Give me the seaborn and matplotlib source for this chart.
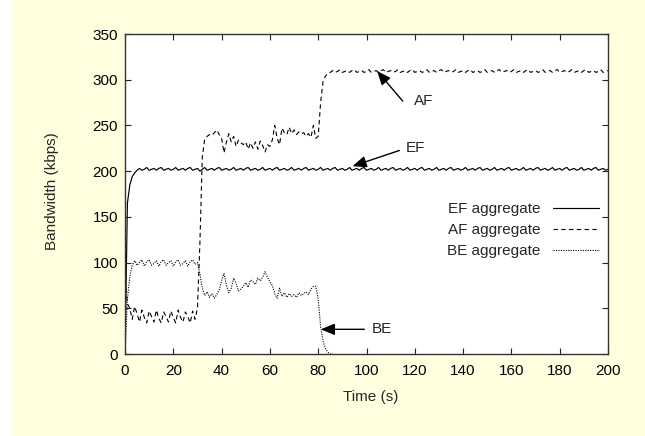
import numpy as np
import matplotlib
matplotlib.use("Agg")
import matplotlib.pyplot as plt
from matplotlib.patches import Rectangle
import seaborn as sns

sns.set_style("ticks")
plt.rcParams["font.family"] = ["Liberation Sans", "DejaVu Sans"]
plt.rcParams["font.size"] = 11

# ---------------- data (kbps, sampled every 1 s) ----------------
ef_start = [0, 165, 185, 194, 198, 201]
ef_steady = [
    203, 201, 202, 204, 201, 202, 203, 201, 203, 204, 201, 202, 203, 201, 202,
    204, 201, 202, 203, 201, 203, 204, 201, 202, 203, 200, 202, 204, 201, 202,
    203, 201, 203, 204, 201, 202, 203, 201, 202, 204, 201, 202, 203, 201, 203,
    204, 201, 202, 203, 201, 202, 204, 201, 202, 203, 201, 203, 204, 201, 202,
    203, 201, 202, 204, 201, 202, 203, 201, 203, 204, 201, 202, 203, 201, 202,
    204, 201, 202, 203, 201, 203, 204, 201, 202, 203, 201, 202, 204, 201, 202,
    203, 201, 203, 204, 201, 202, 203, 201, 202, 204, 201, 202, 203, 201, 203,
    204, 201, 202, 203, 201, 202, 204, 201, 202, 203, 201, 203, 204, 201, 202,
    203, 201, 202, 204, 201, 202, 203, 201, 203, 204, 201, 202, 203, 201, 202,
    204, 201, 202, 203, 201, 203, 204, 201, 202, 203, 201, 202, 204, 201, 202,
    203, 201, 203, 204, 201, 202, 203, 201, 202, 204, 201, 202, 203, 201, 203,
    204, 201, 202, 203, 201, 202, 204, 201, 202, 203, 201, 203, 204, 201, 202,
    203, 201, 202, 204, 201, 202, 203, 201, 203, 204, 201, 202, 203, 201, 202,
]
af_phase1 = [80, 55, 50, 38, 52, 44, 35, 48, 40, 34, 47, 41, 35, 48, 39, 34, 46,
             41, 35, 47, 40, 34, 48, 40, 35, 46, 41, 34, 47, 38, 50, 120, 215]
af_phase2 = [235, 238, 240, 239, 242, 245, 240, 236, 220, 232, 241, 232, 238, 227,
             234, 231, 229, 232, 224, 231, 225, 232, 224, 233, 228, 221, 229, 227,
             234, 250, 236, 229, 247, 242, 240, 248, 241, 245, 240, 243, 241, 242,
             238, 241, 237, 250, 236, 238]
af_phase3 = [
    275, 298, 304, 307, 308,
    310, 308, 309, 311, 308, 309, 310, 308, 310, 311, 308, 309, 310, 308, 309,
    311, 308, 309, 310, 308, 310, 311, 308, 309, 310, 308, 309, 311, 308, 309,
    310, 308, 310, 311, 308, 309, 310, 308, 309, 311, 308, 309, 310, 308, 310,
    311, 308, 309, 310, 308, 309, 311, 308, 309, 310, 308, 310, 311, 308, 309,
    310, 308, 309, 311, 308, 309, 310, 308, 310, 311, 308, 309, 310, 308, 309,
    311, 308, 309, 310, 308, 310, 311, 308, 309, 310, 308, 309, 311, 308, 309,
    310, 308, 310, 311, 308, 309, 310, 308, 309, 311, 308, 309, 310, 308, 310,
    311, 308, 309, 310, 308, 309, 311, 308, 309, 310,
]
be_phase1 = [0, 60, 85, 97,
             102, 97, 100, 103, 96, 101, 103, 97, 99, 102, 96, 101, 103, 97,
             100, 102, 96, 101, 103, 97, 99, 102, 96, 101, 103, 98, 100]
be_phase2 = [88, 72, 64, 68, 62, 66, 61, 65, 70, 80, 88, 75, 67, 72, 83, 77, 69,
             71, 74, 78, 73, 81, 79, 76, 83, 80, 84, 90, 84, 79, 75, 66, 61, 72,
             63, 67, 62, 66, 63, 65, 62, 67, 64, 66, 68, 65, 71, 74, 74, 60]
be_phase3 = [30, 14, 6, 2, 0, 0]

ef = ef_start + ef_steady
af = af_phase1 + af_phase2 + af_phase3
be = be_phase1 + be_phase2 + be_phase3

labels = ["EF aggregate", "AF aggregate", "BE aggregate"]
xticks = [0, 20, 40, 60, 80, 100, 120, 140, 160, 180, 200]
yticks = [0, 50, 100, 150, 200, 250, 300, 350]

# ---------------- figure ----------------
W, H = 645, 436
fig = plt.figure(figsize=(W / 100, H / 100), dpi=100, facecolor="white")
fig.patches.append(Rectangle((12 / W, 0), 1, 1, transform=fig.transFigure,
                             facecolor="#FFFFE0", edgecolor="none", zorder=-10))
ax = fig.add_axes([125 / W, 1 - 354 / H, (608 - 125) / W, (354 - 34) / H])
ax.set_facecolor("white")

sns.lineplot(x=np.arange(len(ef)), y=ef, ax=ax, color="black", lw=0.85,
             label=labels[0], linestyle="-")
sns.lineplot(x=np.arange(len(af)), y=af, ax=ax, color="black", lw=0.8,
             label=labels[1], linestyle=(0, (4, 3)))
sns.lineplot(x=np.arange(len(be)), y=be, ax=ax, color="black", lw=0.8,
             label=labels[2], linestyle=(0, (1, 1.2)))

ax.set_xlim(0, 200)
ax.set_ylim(0, 350)
ax.set_xticks(xticks)
ax.set_yticks(yticks)
ax.tick_params(direction="in", length=4, width=0.8, top=True, right=True,
               colors="#222222", labelcolor="black", labelsize=11)
ax.tick_params(axis="x", pad=7)
ax.tick_params(axis="y", pad=5)
for s in ax.spines.values():
    s.set_visible(True)
    s.set_color("#333333")
    s.set_linewidth(1.0)

ax.set_xlabel("Time (s)", fontsize=11)
ax.set_ylabel("Bandwidth (kbps)", fontsize=11)
ax.xaxis.set_label_coords(0.509, -0.112)
ax.yaxis.set_label_coords(-0.136, 0.509)

arrow = dict(arrowstyle="-|>,head_length=0.6,head_width=0.25", color="black",
             lw=1.0, shrinkA=0, shrinkB=0, mutation_scale=14)
ax.annotate("", xy=(104.4, 309.5), xytext=(115, 276.6), arrowprops=arrow)
ax.text(119.6, 276.6, "AF", ha="left", va="center", fontsize=11)
ax.annotate("", xy=(94.2, 205.4), xytext=(113.6, 222.6), arrowprops=arrow)
ax.text(116.1, 225.5, "EF", ha="left", va="center", fontsize=11)
ax.annotate("", xy=(81.1, 27), xytext=(99.1, 27), arrowprops=arrow)
ax.text(102.3, 27, "BE", ha="left", va="center", fontsize=11)

ax.legend(loc="upper right", bbox_to_anchor=(0.981, 0.474), markerfirst=False,
          frameon=False, fontsize=11, handlelength=3.0, handletextpad=0.8,
          labelspacing=0.45, borderpad=0, borderaxespad=0)

fig.savefig("out.png", dpi=100, facecolor=fig.get_facecolor())
